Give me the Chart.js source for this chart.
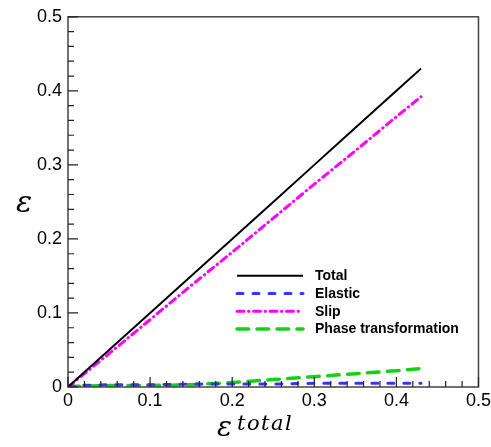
<!DOCTYPE html>
<html>
<head>
<meta charset="utf-8">
<script src="https://cdn.jsdelivr.net/npm/chart.js@4/dist/chart.umd.min.js"></script>
<style>
  html, body { margin: 0; padding: 0; background: #fff; overflow: hidden; }
  #wrap { width: 494px; height: 447px; }
</style>
</head>
<body>
<div id="wrap"><canvas id="chart"></canvas></div>
<script>
// strain values
const totalStrain = [0, 0.01, 0.05, 0.1, 0.15, 0.2, 0.25, 0.3, 0.35, 0.4, 0.43];
const totalVals   = [0, 0.01, 0.05, 0.1, 0.15, 0.2, 0.25, 0.3, 0.35, 0.4, 0.43];
const elasticVals = [0, 0.002, 0.003, 0.003, 0.004, 0.004, 0.004, 0.005, 0.005, 0.005, 0.005];
const slipVals    = [0, 0.009, 0.045, 0.091, 0.137, 0.182, 0.228, 0.274, 0.319, 0.365, 0.392];
const phaseVals   = [0, 0.001, 0.002, 0.002, 0.003, 0.006, 0.010, 0.014, 0.018, 0.022, 0.025];
const seriesNames = ["Total", "Elastic", "Slip", "Phase transformation"];
const xTicks = [0, 0.1, 0.2, 0.3, 0.4, 0.5];
const yTicks = [0, 0.1, 0.2, 0.3, 0.4, 0.5];

const toPoints = (vals) => totalStrain.map((x, i) => ({ x: x, y: vals[i] }));

const styles = [
  { color: "#000000", width: 2, dash: [] },
  { color: "#3535ff", width: 3, dash: [6, 10] },
  { color: "#ff00ff", width: 3, dash: [7, 4.5, 0.5, 4.5] },
  { color: "#15d015", width: 3.5, dash: [11.5, 8.5] },
];

const datasets = [totalVals, elasticVals, slipVals, phaseVals].map((vals, i) => ({
  label: seriesNames[i],
  data: toPoints(vals),
  showLine: true,
  borderColor: styles[i].color,
  borderWidth: styles[i].width,
  borderDash: styles[i].dash,
  borderCapStyle: i === 0 ? "butt" : "round",
  pointRadius: 0,
  tension: 0,
  fill: false,
}));

// frame, inward ticks, legend and axis titles
const decor = {
  id: "decor",
  afterDraw(chart) {
    const { ctx, chartArea: a } = chart;
    const xs = chart.scales.x, ys = chart.scales.y;
    ctx.save();
    ctx.strokeStyle = "#444";
    ctx.lineWidth = 1.5;
    ctx.strokeRect(a.left, a.top, a.right - a.left, a.bottom - a.top);

    ctx.strokeStyle = "#222";
    ctx.lineWidth = 1.2;
    ctx.beginPath();
    for (let k = 0; k <= 25; k++) {
      const v = k * 0.02;
      const len = k % 5 === 0 ? 10 : 6;
      const px = xs.getPixelForValue(v);
      ctx.moveTo(px, a.bottom);
      ctx.lineTo(px, a.bottom - len);
      const py = ys.getPixelForValue(v);
      ctx.moveTo(a.left, py);
      ctx.lineTo(a.left + len, py);
    }
    ctx.stroke();

    // legend
    const lx = a.left + 169, ly = a.top + 259, gap = 17.7;
    chart.data.datasets.forEach((ds, i) => {
      const y = ly + i * gap;
      ctx.beginPath();
      ctx.strokeStyle = ds.borderColor;
      ctx.lineWidth = ds.borderWidth;
      ctx.setLineDash(ds.borderDash);
      ctx.lineCap = ds.borderCapStyle;
      ctx.moveTo(lx, y);
      ctx.lineTo(lx + 66, y);
      ctx.stroke();
      ctx.setLineDash([]);
      ctx.fillStyle = "#000";
      ctx.font = "bold 14px 'Liberation Sans', Arial, sans-serif";
      ctx.textBaseline = "middle";
      ctx.textAlign = "left";
      ctx.fillText(ds.label, lx + 78, y + 0.5);
    });

    // axis titles
    ctx.fillStyle = "#000";
    ctx.textBaseline = "alphabetic";
    ctx.font = "italic 30px 'DejaVu Serif', serif";
    ctx.textAlign = "center";
    ctx.fillText("ε", 24, 212);
    ctx.font = "italic 28px 'DejaVu Serif', serif";
    ctx.textAlign = "left";
    ctx.fillText("ε", 217, 436);
    ctx.font = "italic 21px 'DejaVu Serif', serif";
    ctx.letterSpacing = "1.5px";
    ctx.fillText("total", 237, 430);
    ctx.restore();
  },
};

new Chart(document.getElementById("chart"), {
  type: "scatter",
  data: { datasets: datasets },
  options: {
    responsive: true,
    maintainAspectRatio: false,
    animation: false,
    layout: { padding: { top: 15, right: 0, left: 0, bottom: 0 } },
    plugins: { legend: { display: false }, tooltip: { enabled: false } },
    scales: {
      x: {
        type: "linear",
        min: 0,
        max: 0.5,
        afterFit: (s) => { s.height = 60; },
        afterBuildTicks: (s) => { s.ticks = xTicks.map((v) => ({ value: v })); },
        grid: { display: false, drawTicks: false },
        border: { display: false },
        ticks: {
          padding: 3,
          color: "#000",
          font: { family: "'Liberation Sans', Arial, sans-serif", size: 18 },
          callback: (v) => String(v),
        },
      },
      y: {
        type: "linear",
        min: 0,
        max: 0.5,
        afterFit: (s) => { s.width = 68; },
        afterBuildTicks: (s) => { s.ticks = yTicks.map((v) => ({ value: v })); },
        grid: { display: false, drawTicks: false },
        border: { display: false },
        ticks: {
          padding: 6,
          color: "#000",
          font: { family: "'Liberation Sans', Arial, sans-serif", size: 18 },
          callback: (v) => String(v),
        },
      },
    },
  },
  plugins: [decor],
});
</script>
</body>
</html>
